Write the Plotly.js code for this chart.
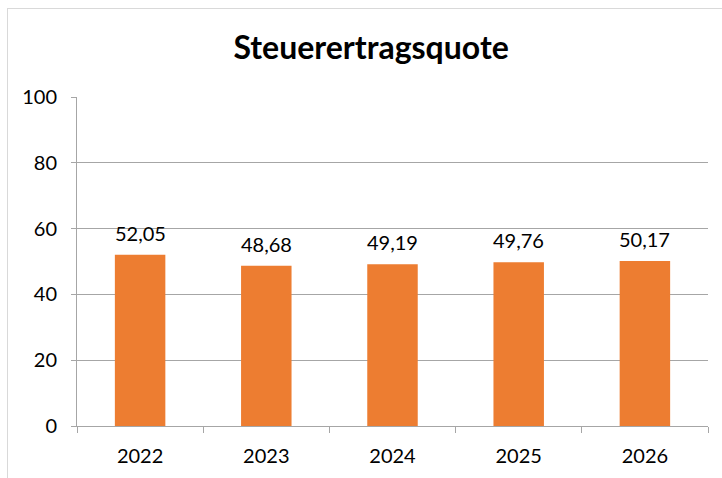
<!DOCTYPE html>
<html>
<head>
<meta charset="utf-8">
<script src="https://cdn.plot.ly/plotly-3.0.1.min.js"></script>
<style>
html,body{margin:0;padding:0;background:#fff;}
#chart{position:absolute;left:0;top:0;width:722px;height:478px;}
#frame{position:absolute;left:7px;top:8px;width:720px;height:480px;border-left:1px solid #d9d9d9;border-top:1px solid #d9d9d9;pointer-events:none;}
</style>
</head>
<body>
<div id="chart"></div>
<div id="frame"></div>
<script>
const years = ['2022', '2023', '2024', '2025', '2026'];
const quote = [52.05, 48.68, 49.19, 49.76, 50.17];
const titleText = 'Steuerertragsquote';
const yTicks = [0, 20, 40, 60, 80, 100];

const FONT = 'Lato, Open Sans, sans-serif';

const trace = {
  type: 'bar',
  x: years,
  y: quote,
  width: 0.4,
  marker: {color: '#ED7D31'},
  hoverinfo: 'none'
};

const labels = years.map((yr, i) => ({
  x: i,
  y: quote[i],
  xref: 'x',
  yref: 'y',
  text: quote[i].toFixed(2).replace('.', ','),
  showarrow: false,
  yanchor: 'bottom',
  yshift: 8,
  font: {family: FONT, size: 20, color: '#000'}
}));

const layout = {
  width: 722,
  height: 478,
  margin: {l: 77, r: 14, t: 97, b: 52},
  paper_bgcolor: '#fff',
  plot_bgcolor: '#fff',
  separators: ',.',
  showlegend: false,
  font: {family: FONT, size: 20, color: '#000'},
  title: {
    text: '<b>' + titleText + '</b>',
    font: {family: FONT, size: 32, color: '#000'},
    x: 0.514, xanchor: 'center',
    y: 0.9, yref: 'container', yanchor: 'middle'
  },
  annotations: labels,
  xaxis: {
    type: 'category',
    categoryorder: 'array',
    categoryarray: years,
    range: [-0.5, years.length - 0.5],
    tickson: 'boundaries',
    ticks: 'outside',
    ticklen: 6,
    tickcolor: '#a6a6a6',
    showline: true,
    linecolor: '#a6a6a6',
    linewidth: 1,
    showgrid: false,
    tickfont: {size: 20},
    ticklabelstandoff: 12
  },
  yaxis: {
    range: [0, 100],
    tickvals: yTicks,
    ticks: 'outside',
    ticklen: 5,
    tickcolor: '#a6a6a6',
    showline: true,
    linecolor: '#a6a6a6',
    linewidth: 1,
    showgrid: true,
    gridcolor: '#a6a6a6',
    gridwidth: 1,
    zeroline: false,
    tickfont: {size: 20},
    ticklabelstandoff: 10
  }
};

Plotly.newPlot('chart', [trace], layout, {displayModeBar: false, staticPlot: true});
</script>
</body>
</html>
